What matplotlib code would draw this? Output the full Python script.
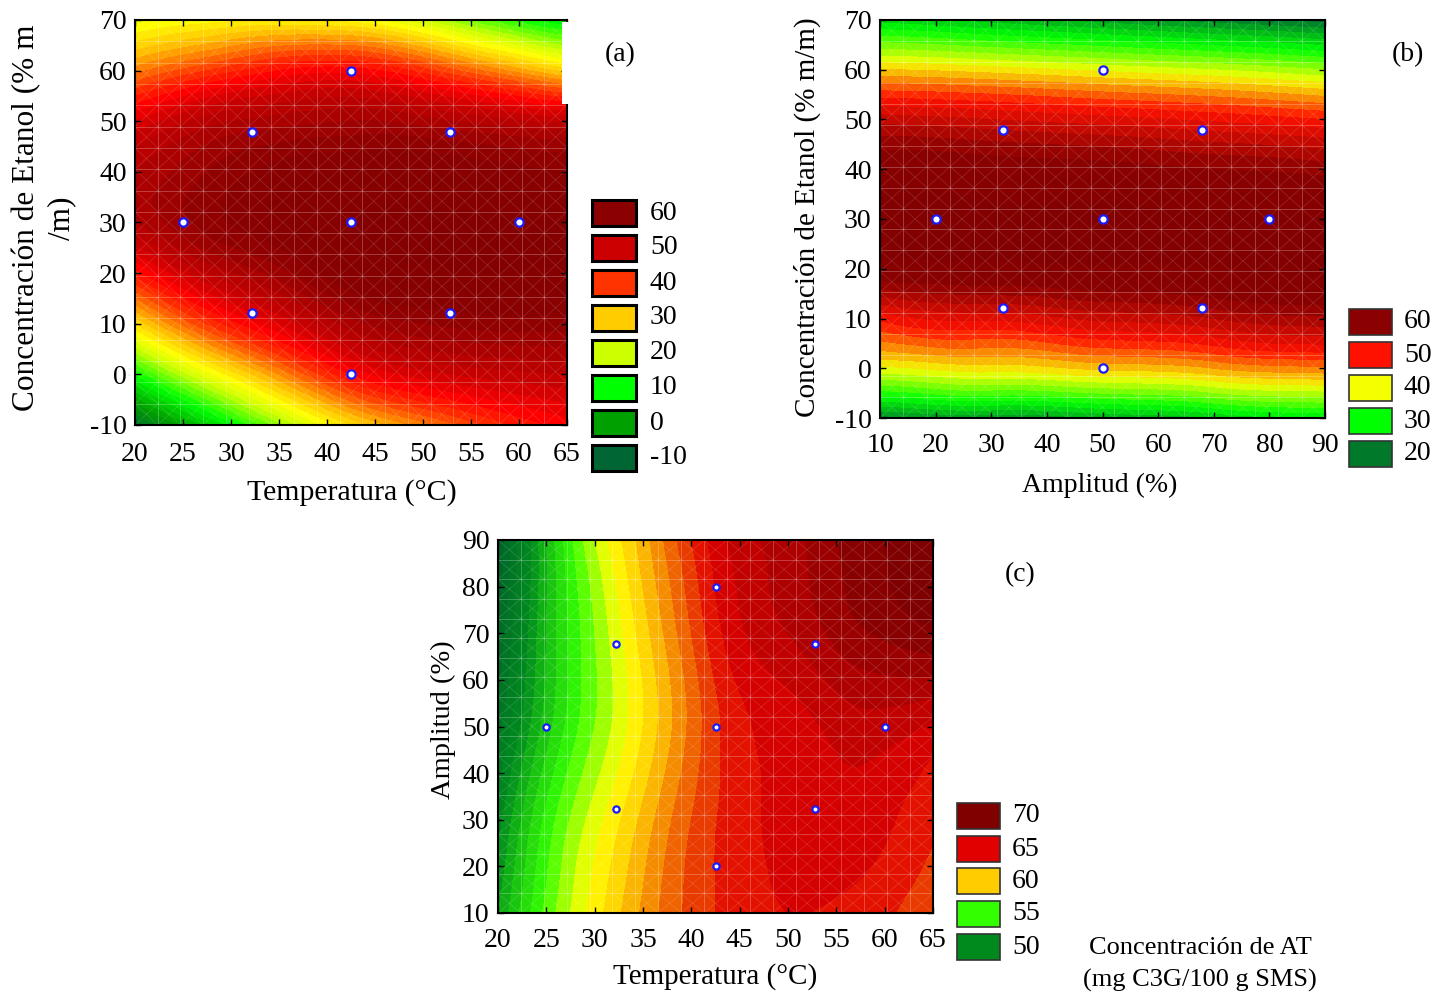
import numpy as np
import matplotlib
matplotlib.use("Agg")
import matplotlib.pyplot as plt
import matplotlib.tri as mtri
from matplotlib.colors import LinearSegmentedColormap, Normalize
from matplotlib.patches import Rectangle

plt.rcParams['font.family'] = ['Liberation Serif', 'DejaVu Serif']
plt.rcParams['axes.unicode_minus'] = False

W, H = 1448, 994

# ---------------- data ----------------
# Panel (a): Temperatura (°C) vs Concentración de Etanol (% m/m)
a_temp = [20, 27.5, 35, 42.5, 50, 57.5, 65]
a_etanol = [-10, 0, 10, 20, 30, 40, 50, 60, 70]
a_vals = [
    [-8, 5, 17, 28, 35, 41, 45],          # -10
    [10, 23, 34, 44, 49, 51, 52],         # 0
    [28, 40, 48, 55, 58, 59, 59],         # 10
    [43, 52, 57, 62, 63.5, 64, 63.5],     # 20
    [54, 59, 62, 64, 64.5, 64.5, 64],     # 30
    [54, 58, 61, 62, 62, 61, 60],         # 40
    [48, 53, 55, 56, 55, 53, 52],         # 50
    [35, 40, 44, 45, 41, 35, 29],         # 60
    [23, 25, 26, 25, 20, 13, 8],          # 70
]
a_pts_temp = [25, 32.2, 32.2, 42.5, 42.5, 42.5, 52.8, 52.8, 60]
a_pts_etanol = [30, 47.8, 12.2, 60, 30, 0, 47.8, 12.2, 30]

# Panel (b): Amplitud (%) vs Concentración de Etanol (% m/m)
b_amp = [10, 30, 50, 70, 90]
b_etanol = [-10, 0, 10, 20, 30, 40, 50, 60, 70]
b_vals = [
    [21, 22.5, 24, 26, 28],
    [39.5, 41, 42.5, 44, 45.5],
    [50.5, 52.5, 54.5, 56, 57.5],
    [62.5, 63, 63.5, 64, 64.5],
    [65, 65, 65, 64.5, 64],
    [62, 61.5, 61, 60, 59],
    [55, 54, 52.8, 51.5, 50],
    [42, 41, 39.5, 38, 36],
    [27, 25, 23, 21, 19],
]
b_pts_amp = [20, 32.2, 32.2, 50, 50, 50, 67.8, 67.8, 80]
b_pts_etanol = [30, 47.8, 12.2, 60, 30, 0, 47.8, 12.2, 30]

# Panel (c): Temperatura (°C) vs Amplitud (%)
c_temp = [20, 25, 30, 35, 40, 45, 50, 55, 60, 65]
c_amp = [10, 30, 50, 70, 90]
c_vals = [
    [51, 55.3, 58.5, 61.2, 63.3, 64.5, 65, 64.8, 64.2, 63.2],     # 10
    [49.5, 54.3, 57.5, 60.3, 63, 64.6, 65.4, 65.7, 65.2, 64.2],   # 30
    [47.5, 52.5, 56, 59, 62.3, 64.7, 65.5, 66.3, 66.5, 65.8],     # 50
    [46, 52, 56, 59.5, 63, 65.8, 67, 68.3, 69.2, 69.8],           # 70
    [45, 52, 57, 60.5, 64, 66.5, 67.5, 69, 70, 71],               # 90
]
c_pts_temp = [25, 32.2, 32.2, 42.5, 42.5, 42.5, 52.8, 52.8, 60]
c_pts_amp = [50, 67.8, 32.2, 80, 50, 20, 67.8, 32.2, 50]

# legends
leg_a_vals = [60, 50, 40, 30, 20, 10, 0, -10]
leg_a_cols = ['#8B0000', '#CC0000', '#FF3300', '#FFCC00', '#CCFF00', '#00FF00', '#00A000', '#006633']
leg_b_vals = [60, 50, 40, 30, 20]
leg_b_cols = ['#8B0000', '#FF1100', '#F5FF00', '#00FF00', '#007A2A']
leg_c_vals = [70, 65, 60, 55, 50]
leg_c_cols = ['#800000', '#E00000', '#FFCC00', '#33FF00', '#008A1E']

# colour anchors (value, colour) for the continuous scales
anch_a = [(-14, '#005A30'), (-10, '#006633'), (0, '#00A000'), (10, '#00FF00'), (20, '#CCFF00'),
          (25, '#FFFF00'), (30, '#FFCC00'), (40, '#FF3300'), (45, '#FF0000'), (50, '#CC0000'),
          (60, '#8B0000'), (72, '#7A0000')]
anch_b = [(12, '#005A2A'), (20, '#007A2A'), (30, '#00FF00'), (40, '#F5FF00'), (50, '#FF1100'),
          (60, '#8B0000'), (70, '#7A0000')]
anch_c = [(42, '#004A30'), (50, '#008A1E'), (55, '#33FF00'), (58, '#FFFF00'), (60, '#FFCC00'),
          (65, '#E00000'), (70, '#800000'), (74, '#760000')]


def make_cmap(anch):
    v0, v1 = anch[0][0], anch[-1][0]
    pts = [((v - v0) / (v1 - v0), c) for v, c in anch]
    return LinearSegmentedColormap.from_list('c', pts), Normalize(v0, v1)


fig = plt.figure(figsize=(W / 100, H / 100), dpi=100)


def px_rect(l, t, r, b):
    return [l / W, 1 - b / H, (r - l) / W, (b - t) / H]


def mesh(ax, xlim, ylim, n=19):
    dx = (xlim[1] - xlim[0]) / n
    dy = (ylim[1] - ylim[0]) / n
    kw = dict(color='white', lw=0.7, alpha=0.25, zorder=2)
    for i in range(1, n):
        ax.plot([xlim[0] + i * dx] * 2, ylim, **kw)
        ax.plot(xlim, [ylim[0] + i * dy] * 2, **kw)
    kw2 = dict(color='white', lw=0.6, alpha=0.14, zorder=2)
    for k in range(-n, n + 1):
        ax.plot([xlim[0] + k * dx, xlim[0] + (k + n) * dx], [ylim[0], ylim[1]], **kw2)
        ax.plot([xlim[0] + k * dx, xlim[0] + (k + n) * dx], [ylim[1], ylim[0]], **kw2)


def panel(rect, xs, ys, vals, anch, levels, ptx, pty, xlim, ylim, xticks, yticks, ms, xpad):
    ax = fig.add_axes(rect)
    X, Y = np.meshgrid(np.array(xs, float), np.array(ys, float))
    Z = np.array(vals, float)
    tri = mtri.Triangulation(X.ravel(), Y.ravel())
    interp = mtri.CubicTriInterpolator(tri, Z.ravel(), kind='min_E')
    ref = mtri.UniformTriRefiner(tri)
    tf, zf = ref.refine_field(Z.ravel(), triinterpolator=interp, subdiv=4)
    cmap, norm = make_cmap(anch)
    ax.tricontourf(tf, zf, levels=levels, cmap=cmap, norm=norm, extend='both', zorder=1)
    mesh(ax, xlim, ylim)
    ax.plot(ptx, pty, 'o', ms=ms, mfc='white', mec='#1a1aff', mew=1.6, ls='none', zorder=5)
    ax.set_xlim(xlim)
    ax.set_ylim(ylim)
    ax.set_xticks(xticks)
    ax.set_yticks(yticks)
    ax.tick_params(direction='in', length=4, width=1, top=True, right=True, labelsize=20)
    ax.tick_params(axis='x', pad=xpad)
    ax.tick_params(axis='y', pad=6)
    for s in ax.spines.values():
        s.set_linewidth(1.5)
    return ax


def legend(vals, cols, x0, x1, yc, h, xl, lw, ec):
    for v, c, y in zip(vals, cols, yc):
        fig.patches.append(Rectangle((x0 / W, 1 - (y + h / 2) / H), (x1 - x0) / W, h / H,
                                     transform=fig.transFigure, facecolor=c, edgecolor=ec, lw=lw))
        fig.text(xl / W, 1 - y / H, str(v), fontsize=20, va='center', ha='left')


def ftext(x, y, s, **kw):
    fig.text(x / W, 1 - y / H, s, **kw)


# (a)
axa = panel(px_rect(135, 20, 567, 425), a_temp, a_etanol, a_vals, anch_a, np.arange(-12, 72, 2),
            a_pts_temp, a_pts_etanol, (20, 65), (-10, 70), np.arange(20, 66, 5), np.arange(-10, 71, 10), 6, 12)
fig.patches.append(Rectangle((562 / W, 1 - 104 / H), 9 / W, 82 / H, transform=fig.transFigure,
                             facecolor='white', edgecolor='none', zorder=10))
# (b)
axb = panel(px_rect(880, 20, 1325, 418), b_amp, b_etanol, b_vals, anch_b, np.arange(12, 70, 2),
            b_pts_amp, b_pts_etanol, (10, 90), (-10, 70), np.arange(10, 91, 10), np.arange(-10, 71, 10), 6, 11)
# (c)
axc = panel(px_rect(498, 540, 933, 913), c_temp, c_amp, c_vals, anch_c, np.arange(42, 74, 1),
            c_pts_temp, c_pts_amp, (20, 65), (10, 90), np.arange(20, 66, 5), np.arange(10, 91, 10), 4.5, 11)

# legends
legend(leg_a_vals, leg_a_cols, 592, 636, [213, 248, 283, 318, 353, 388, 423, 458], 26, 650, 2.2, 'black')
legend(leg_b_vals, leg_b_cols, 1349, 1392, [322, 355, 388, 421, 454], 26, 1404, 1.2, '#333333')
legend(leg_c_vals, leg_c_cols, 957, 1000, [816, 849, 881, 914, 947], 26, 1012, 1.2, '#333333')

# panel tags
ftext(620, 55, '(a)', fontsize=20, ha='center', va='center')
ftext(1408, 55, '(b)', fontsize=20, ha='center', va='center')
ftext(1020, 575, '(c)', fontsize=20, ha='center', va='center')

# axis titles
ftext(352, 493, 'Temperatura (°C)', fontsize=21.5, ha='center', va='center')
ftext(1100, 485, 'Amplitud (%)', fontsize=20, ha='center', va='center')
ftext(715, 977, 'Temperatura (°C)', fontsize=21, ha='center', va='center')
ftext(44, 218, 'Concentración de Etanol (% m\n/m)', fontsize=22.5, ha='center', va='center',
      rotation=90, multialignment='center', linespacing=1.25)
ftext(807, 217, 'Concentración de Etanol (% m/m)', fontsize=21, ha='center', va='center', rotation=90)
ftext(443, 720, 'Amplitud (%)', fontsize=20.5, ha='center', va='center', rotation=90)

ftext(1200, 948, 'Concentración de AT', fontsize=19, ha='center', va='center')
ftext(1200, 980, '(mg C3G/100 g SMS)', fontsize=19, ha='center', va='center')

fig.savefig('out.png', dpi=100)
